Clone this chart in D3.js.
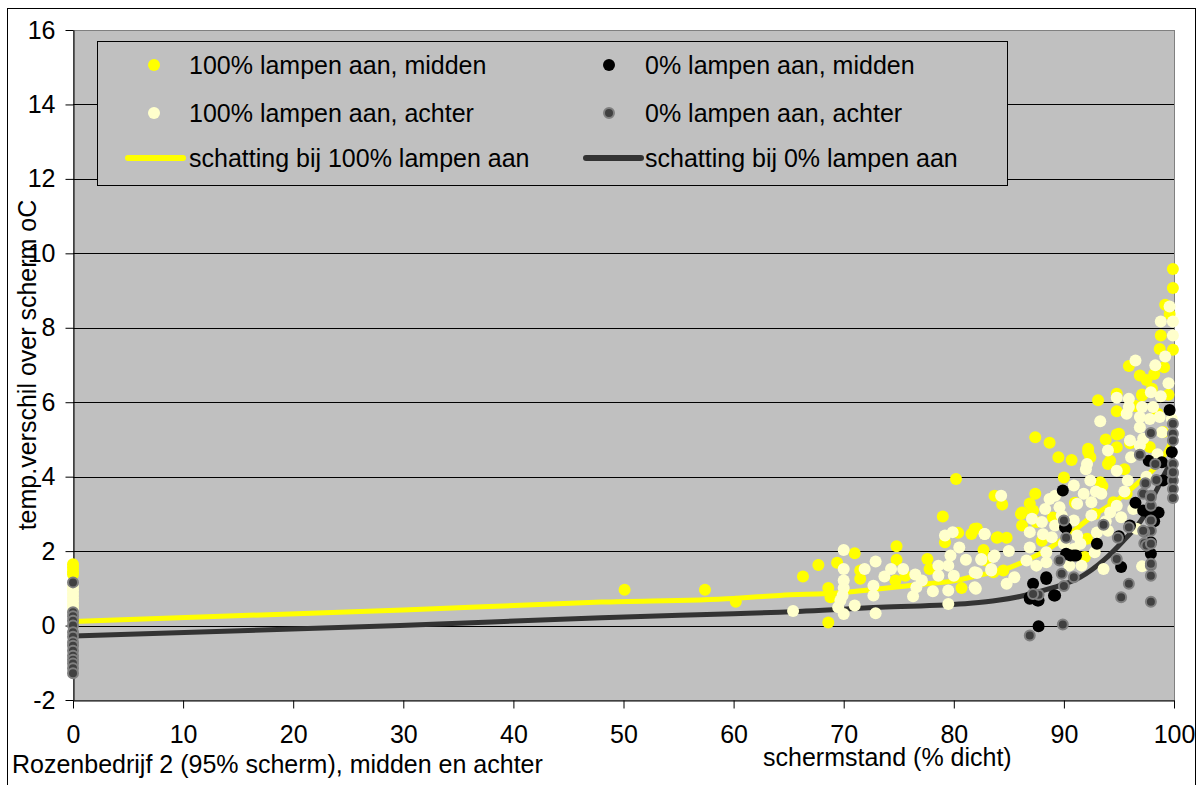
<!DOCTYPE html>
<html>
<head>
<meta charset="utf-8">
<script src="https://cdn.jsdelivr.net/npm/d3@7"></script>
<style>
  body { margin: 0; background: #fff; }
  svg text { font-family: "Liberation Sans", Arial, sans-serif; font-size: 25px; fill: #000; }
</style>
</head>
<body>
<svg id="chart" width="1204" height="785"></svg>
<script>
// --- data ---
const xTicks = [0, 10, 20, 30, 40, 50, 60, 70, 80, 90, 100];
const yTicks = [-2, 0, 2, 4, 6, 8, 10, 12, 14, 16];

// 100% lampen aan, midden
const midden100 = [
  [0,1.65],[0,1.55],[0,1.45],[0,1.38],
  [50.1,0.96],[57.4,0.96],[60.2,0.64],[66.3,1.32],[67.7,1.63],[68.6,1.01],[68.8,0.76],[68.6,0.08],
  [69.4,1.69],[71.0,1.94],[71.5,1.48],[71.5,1.26],[74.8,2.13],[74.8,1.77],[74.7,1.21],[75.6,1.34],
  [77.6,1.79],[77.8,1.52],[79.0,2.93],[79.2,2.24],[80.4,2.49],[81.6,2.46],[82.1,2.61],[82.7,2.03],
  [80.7,1.01],[83.9,2.36],[83.6,1.43],[80.2,3.94],[82.9,1.75],
  [99.9,9.58],[99.9,9.07],[99.2,8.62],[99.6,8.37],[98.8,7.79],[98.7,7.43],[99.9,7.41],[99.1,6.94],
  [98.2,6.76],[96.9,6.72],[95.9,6.97],[98.0,6.36],[97.1,6.21],[93.1,6.05],[94.8,6.23],[94.8,5.76],
  [87.4,5.06],[88.7,4.91],[94.8,5.13],[92.2,4.75],[89.5,4.52],[90.7,4.45],[92.2,4.66],[92.4,4.52],
  [94.0,4.34],[94.8,4.79],[90.0,3.98],[87.4,3.54],[86.2,3.04],[87.2,3.09],[83.7,3.49],[81.9,2.6],
  [84.0,2.37],[84.8,2.36],[86.2,2.69],[88.0,2.28],[92.1,2.33],[91.9,1.84],[93.3,3.85],[93.5,3.75],
  [94.5,3.31],[95.7,3.54],[84.5,1.48],[87.5,2.78],[84.4,3.25],[86.1,3.0],[86.9,3.28],[95.0,5.15],
  [94.2,4.43],[97.1,6.18],[96.5,5.9],[97.5,6.6],[98.5,5.7],[99.5,6.2],[96.0,4.9],[93.8,5.0],
  [95.5,4.2],[91.0,3.3],[89.0,2.9],[92.8,3.0],[97.8,4.8],[99.0,5.2]
];

// 100% lampen aan, achter
const achter100 = [
  [0,1.05],[0,0.95],[0,0.85],[0,0.75],[0,0.65],[0,0.55],[0,0.45],
  [65.4,0.39],[70.0,2.03],[70.0,1.52],[70.0,1.21],[70.0,1.01],[69.9,0.81],[69.7,0.67],[69.5,0.49],
  [70.0,0.31],[71.0,0.54],[71.9,1.52],[72.7,1.07],[72.7,0.81],[72.9,0.33],[72.9,1.72],[73.7,1.32],
  [74.3,1.52],[75.4,1.52],[76.5,1.37],[76.6,1.03],[76.3,0.79],[77.1,1.21],[78.1,0.92],[78.6,1.61],
  [78.6,1.34],[79.2,2.42],[79.7,1.88],[79.5,1.61],[79.5,0.94],[79.5,0.58],[79.9,2.51],[80.5,2.10],
  [80.0,1.34],[81.1,1.77],[82.0,0.99],[82.1,1.41],[82.5,1.77],[82.8,2.46],[83.7,1.88],[83.4,1.52],
  [99.6,8.57],[98.8,8.17],[99.9,8.17],[99.9,7.79],[99.2,7.23],[98.3,6.99],[96.5,7.12],[99.5,6.51],
  [97.9,6.27],[98.8,6.16],[94.8,6.12],[95.9,6.09],[95.9,5.87],[95.7,5.69],[97.1,5.87],[98.1,5.87],
  [96.9,5.6],[97.8,5.55],[98.7,5.6],[99.8,5.55],[93.3,5.49],[96.9,5.33],[98.9,5.19],[96.0,4.97],
  [97.2,5.02],[84.3,3.49],[92.1,4.34],[92.0,4.2],[94.8,4.16],[96.1,4.52],[96.9,4.84],[90.9,3.76],
  [92.4,3.9],[93.4,3.54],[91.8,3.54],[89.2,3.49],[88.7,3.4],[88.3,3.13],[89.6,3.18],[91.2,3.27],
  [92.5,3.31],[94.8,3.22],[96.3,3.13],[87.1,2.87],[88.0,2.78],[89.2,2.69],[90.9,2.82],[92.5,2.96],
  [94.2,3.04],[95.2,2.91],[96.6,2.6],[86.9,2.51],[88.9,2.37],[91.2,2.42],[94.0,2.55],[82.8,2.46],
  [86.9,2.1],[88.4,1.97],[90.9,2.06],[92.8,1.97],[86.6,1.75],[87.5,1.61],[91.6,1.61],[93.6,1.52],
  [82.5,1.79],[83.6,1.84],[81.9,1.43],[83.4,1.48],[84.8,1.12],[81.9,1.03],[97.1,1.59],[88.4,1.70],
  [90.5,1.61],[93.0,2.5],[95.5,3.6],[97.5,4.0],[98.5,4.6],[94.0,4.7],[90.0,2.2],[85.5,1.3],[85.0,2.0],
  [89.8,2.95],[91.5,2.2],[93.8,2.8],[95.8,3.9],[92.9,3.6],[88.1,2.45]
];

// 0% lampen aan, midden
const midden0 = [
  [99.6,5.79],[99.8,4.66],[89.9,3.63],[90.2,2.62],[90.6,1.88],[91.1,1.88],[88.4,1.30],[87.2,1.12],
  [86.9,0.76],[87.7,0.67],[89.1,0.81],[87.7,-0.02],[97.2,3.09],[98.6,3.04],[97.9,2.24],[97.9,1.93],
  [95.2,1.57],[96.0,2.69],[97.7,4.43],[98.9,4.39],[97.8,3.0],[90.1,2.64],[90.9,1.88],[90.2,1.93],
  [88.4,1.25],[89.2,0.81],[86.9,0.72],[87.6,0.67],[93.0,2.2],[95.0,2.4],[96.5,3.3],[99.0,3.9],[98.2,2.8]
];

// 0% lampen aan, achter
const achter0 = [
  [0,1.16],[0,0.36],[0,0.25],[0,0.13],[0,0.0],[0,-0.18],[0,-0.3],[0,-0.45],[0,-0.54],[0,-0.68],
  [0,-0.81],[0,-0.92],[0,-1.02],[0,-1.15],[0,-1.28],
  [96.9,4.59],[98.3,4.34],[97.4,3.82],[98.4,3.91],[97.2,3.54],[97.9,3.49],[97.9,3.22],[99.9,4.34],
  [99.9,4.09],[99.9,3.9],[99.9,3.67],[99.9,3.43],[97.9,2.82],[97.9,2.55],[97.3,2.51],[97.3,2.21],
  [97.5,2.15],[97.9,1.61],[97.9,1.34],[95.9,2.64],[94.9,2.36],[93.6,2.71],[94.8,1.79],[95.9,1.12],
  [95.2,0.76],[97.9,0.64],[90.0,2.82],[90.2,2.36],[89.6,1.75],[89.8,1.39],[90.9,1.30],[90.0,1.06],
  [87.7,0.83],[87.2,0.85],[89.9,0.03],[86.9,-0.27],[99.9,5.42],[99.9,5.15],[99.9,4.97],[97.9,5.17],
  [99.9,4.12],[97.9,3.45],[97.9,2.2],[97.9,1.66],[97.2,2.55]
];

// schatting (fitted curves)
const schatting100 = [
  [0,0.11],[30,0.42],[48,0.63],[60,0.73],[64.2,0.81],[70,0.89],[73.3,0.99],[77.8,1.13],[80,1.2],
  [82.4,1.36],[84.5,1.5],[86.6,1.75],[88.7,2.08],[90.5,2.45],[92.4,2.9],[94.8,3.36],[96.6,3.8],
  [99,4.52],[100,5.1]
];
const schatting0 = [
  [0,-0.28],[29.7,0.0],[48,0.21],[60,0.32],[64.2,0.36],[73.3,0.49],[81.5,0.6],[84,0.68],[86,0.78],
  [88.7,0.99],[91.5,1.3],[93.6,1.75],[95.4,2.28],[97.2,2.91],[98.4,3.63],[99.3,4.16],[100,4.5]
];

const legendItems = [
  { label: "100% lampen aan, midden", type: "dot", fill: "#FFFF00", col: 0, row: 0 },
  { label: "0% lampen aan, midden", type: "dot", fill: "#000000", col: 1, row: 0 },
  { label: "100% lampen aan, achter", type: "dot", fill: "#FFFFCC", col: 0, row: 1 },
  { label: "0% lampen aan, achter", type: "gray", fill: "#404040", col: 1, row: 1 },
  { label: "schatting bij 100% lampen aan", type: "line", stroke: "#FFFF00", col: 0, row: 2 },
  { label: "schatting bij 0% lampen aan", type: "line", stroke: "#333333", col: 1, row: 2 }
];

// --- layout ---
const plot = { left: 73, right: 1174, top: 30, bottom: 700 };
const svg = d3.select("#chart");

const x = d3.scaleLinear().domain([0, 100]).range([plot.left, plot.right]);
const y = d3.scaleLinear().domain([-2, 16]).range([plot.bottom, plot.top]);

// outer chart border
svg.append("rect")
  .attr("x", 7.5).attr("y", 8.5)
  .attr("width", 1188).attr("height", 800)
  .attr("fill", "#fff").attr("stroke", "#000").attr("stroke-width", 1);

// plot area
svg.append("rect")
  .attr("x", plot.left + 0.5).attr("y", plot.top + 0.5)
  .attr("width", plot.right - plot.left).attr("height", plot.bottom - plot.top)
  .attr("fill", "#C0C0C0").attr("stroke", "#808080").attr("stroke-width", 1);

// gridlines
svg.append("g").selectAll("line")
  .data(yTicks.filter(d => d > -2 && d < 16))
  .enter().append("line")
  .attr("x1", plot.left).attr("x2", plot.right)
  .attr("y1", d => Math.round(y(d)) + 0.5).attr("y2", d => Math.round(y(d)) + 0.5)
  .attr("stroke", "#000").attr("stroke-width", 1);

// axes (plain hyphen for negatives, like the original)
const fmt = d => String(d);
const yAxis = d3.axisLeft(y).tickValues(yTicks).tickFormat(fmt).tickSize(8).tickSizeOuter(0).tickPadding(10);
const xAxis = d3.axisBottom(x).tickValues(xTicks).tickFormat(fmt).tickSize(8).tickSizeOuter(0).tickPadding(17);

const gy = svg.append("g").attr("transform", `translate(${plot.left + 0.5},0)`).call(yAxis);
const gx = svg.append("g").attr("transform", `translate(0,${plot.bottom + 0.5})`).call(xAxis);
[gy, gx].forEach(g => {
  g.selectAll("path.domain").attr("stroke", "#000");
  g.selectAll(".tick line").attr("stroke", "#000");
  g.selectAll(".tick text").attr("font-size", 25)
    .attr("font-family", "'Liberation Sans', Arial, sans-serif").attr("fill", "#000");
});

// fitted lines (drawn under the points)
const line = d3.line().x(d => x(d[0])).y(d => y(d[1])).curve(d3.curveMonotoneX);
svg.append("path").datum(schatting100).attr("d", line)
  .attr("fill", "none").attr("stroke", "#FFFF00").attr("stroke-width", 5);
svg.append("path").datum(schatting0).attr("d", line)
  .attr("fill", "none").attr("stroke", "#333333").attr("stroke-width", 5);

// scatter series
function dots(data, fill, stroke, r) {
  svg.append("g").selectAll("circle")
    .data(data)
    .enter().append("circle")
    .attr("cx", d => x(d[0]))
    .attr("cy", d => y(d[1]))
    .attr("r", r)
    .attr("fill", fill)
    .attr("stroke", stroke || "none")
    .attr("stroke-width", stroke ? 2 : 0);
}
dots(midden100, "#FFFF00", null, 6);
dots(achter100, "#FFFFCC", null, 6);
dots(midden0, "#000000", null, 6);
dots(achter0, "#404040", "#808080", 5);

// legend
const lg = svg.append("g");
lg.append("rect")
  .attr("x", 97.5).attr("y", 41.5).attr("width", 910).attr("height", 144)
  .attr("fill", "#C0C0C0").attr("stroke", "#000").attr("stroke-width", 1);

const colText = [189, 645], colMark = [154, 609], colLine = [[128, 183], [586, 641]];
const rowY = [65, 113, 158];
legendItems.forEach(it => {
  const cy = rowY[it.row];
  if (it.type === "line") {
    lg.append("line")
      .attr("x1", colLine[it.col][0]).attr("x2", colLine[it.col][1])
      .attr("y1", cy).attr("y2", cy)
      .attr("stroke", it.stroke).attr("stroke-width", 6).attr("stroke-linecap", "round");
  } else {
    lg.append("circle")
      .attr("cx", colMark[it.col]).attr("cy", cy).attr("r", it.type === "gray" ? 5 : 6)
      .attr("fill", it.fill)
      .attr("stroke", it.type === "gray" ? "#808080" : "none")
      .attr("stroke-width", it.type === "gray" ? 2 : 0);
  }
  lg.append("text")
    .attr("x", colText[it.col]).attr("y", cy + 8.5)
    .text(it.label);
});

// titles
svg.append("text")
  .attr("transform", `translate(36,${(plot.top + plot.bottom) / 2}) rotate(-90)`)
  .attr("text-anchor", "middle")
  .text("temp.verschil over scherm oC");

svg.append("text").attr("x", 763).attr("y", 766).text("schermstand (% dicht)");
svg.append("text").attr("x", 12).attr("y", 773).text("Rozenbedrijf 2 (95% scherm), midden en achter");
</script>
</body>
</html>
